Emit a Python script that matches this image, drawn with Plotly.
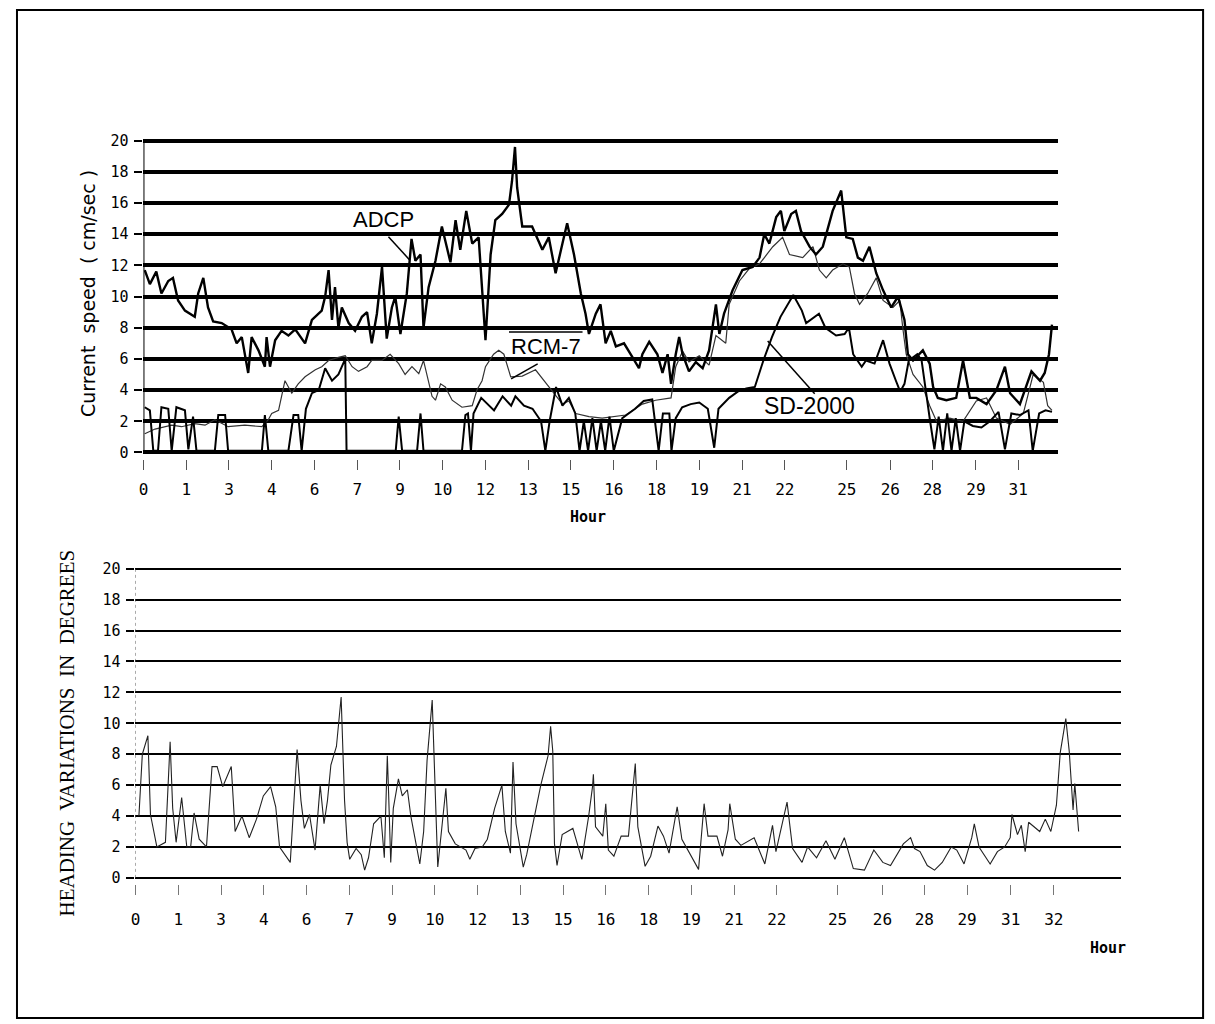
import plotly.graph_objects as go

W, H = 1215, 1024

# ---------------- data ----------------
# hour labels (irregular labels at evenly spaced plotter positions)
top_hour_labels = ["0", "1", "3", "4", "6", "7", "9", "10", "12", "13", "15", "16",
                   "18", "19", "21", "22", "25", "26", "28", "29", "31"]
top_hour_pos = [0, 1, 2, 3, 4, 5, 6, 7, 8, 9, 10, 11, 12, 13, 14, 15,
                16.45, 17.47, 18.45, 19.47, 20.46]
bot_hour_labels = ["0", "1", "3", "4", "6", "7", "9", "10", "12", "13", "15", "16",
                   "18", "19", "21", "22", "25", "26", "28", "29", "31", "32"]
bot_hour_pos = [0, 1, 2, 3, 4, 5, 6, 7, 8, 9, 10, 11, 12, 13, 14, 15,
                16.42, 17.47, 18.45, 19.45, 20.47, 21.48]
y_ticks = [0, 2, 4, 6, 8, 10, 12, 14, 16, 18, 20]

adcp_x = [0.03, 0.15, 0.30, 0.42, 0.58, 0.69, 0.81, 0.97, 1.20, 1.28, 1.40, 1.51, 1.63, 1.83, 2.06,
          2.18, 2.30, 2.45, 2.53, 2.69, 2.84, 2.88, 2.96, 3.08, 3.23, 3.39, 3.55, 3.78, 3.94, 4.17,
          4.25, 4.33, 4.41, 4.48, 4.56, 4.64, 4.80, 4.95, 5.11, 5.23, 5.34, 5.46, 5.58, 5.69, 5.81,
          5.89, 6.01, 6.16, 6.27, 6.36, 6.48, 6.55, 6.67, 6.83, 6.98, 7.18, 7.30, 7.41, 7.55, 7.69,
          7.84, 8.00, 8.12, 8.23, 8.39, 8.55, 8.62, 8.69, 8.74, 8.86, 9.09, 9.33, 9.48, 9.64, 9.80,
          9.91, 10.07, 10.23, 10.34, 10.42, 10.58, 10.69, 10.81, 10.93, 11.05, 11.24, 11.44, 11.59,
          11.67, 11.83, 12.02, 12.14, 12.26, 12.34, 12.45, 12.53, 12.61, 12.76, 12.92, 13.08, 13.23,
          13.39, 13.47, 13.58, 13.78, 14.01, 14.25, 14.41, 14.52, 14.64, 14.80, 14.91, 14.99, 15.15,
          15.26, 15.38, 15.58, 15.73, 15.89, 16.01, 16.12, 16.32, 16.44, 16.59, 16.71, 16.83, 16.98,
          17.14, 17.30, 17.49, 17.65, 17.80, 17.88, 18.00, 18.23, 18.39, 18.47, 18.58, 18.78, 19.01,
          19.17, 19.33, 19.48, 19.72, 19.95, 20.15, 20.27, 20.50, 20.77, 20.97, 21.08, 21.18, 21.25]
adcp_speed = [11.7, 10.8, 11.6, 10.2, 11.0, 11.2, 9.75, 9.1, 8.7, 10.2, 11.2, 9.3, 8.4, 8.3, 7.9,
              7.0, 7.4, 5.1, 7.4, 6.55, 5.5, 7.4, 5.5, 7.2, 7.8, 7.5, 7.9, 7.0, 8.5, 9.1,
              10.0, 11.7, 8.5, 10.6, 8.0, 9.3, 8.3, 7.8, 8.7, 9.0, 7.0, 8.9, 11.9, 7.3, 9.3,
              10.0, 7.6, 10.2, 13.7, 12.3, 12.7, 8.0, 10.6, 12.3, 14.5, 12.2, 14.9, 13.0, 15.5, 13.4,
              13.8, 7.2, 12.7, 14.9, 15.3, 15.9, 17.4, 19.6, 17.0, 14.5, 14.5, 13.0, 13.8, 11.5, 13.4,
              14.7, 12.7, 10.2, 8.9, 7.6, 8.9, 9.5, 7.0, 7.8, 6.8, 7.0, 6.1, 5.4,
              6.3, 7.1, 6.3, 5.1, 6.3, 4.4, 6.3, 7.4, 6.3, 5.2, 5.8, 5.4, 6.55,
              9.5, 7.6, 8.9, 10.4, 11.7, 11.9, 12.5, 14.0, 13.4, 15.1, 15.5, 14.2, 15.3,
              15.5, 14.2, 13.2, 12.7, 13.2, 14.5, 15.5, 16.8, 13.8, 13.7, 12.5, 12.3, 13.2,
              11.5, 10.4, 9.3, 10.0, 8.5, 6.3, 5.9, 6.55, 5.7, 4.2, 3.5, 3.35, 3.5,
              5.9, 3.5, 3.5, 3.1, 4.0, 5.5, 3.8, 3.1, 5.2, 4.6, 5.1, 6.3, 8.2]

rcm7_x = [0.03, 0.27, 0.66, 0.89, 1.20, 1.44, 1.67, 1.98, 2.37, 2.77, 2.92, 3.00, 3.16, 3.31, 3.47,
          3.62, 3.78, 4.02, 4.17, 4.33, 4.56, 4.72, 4.88, 5.03, 5.23, 5.34, 5.58, 5.77, 5.97, 6.12,
          6.28, 6.44, 6.55, 6.75, 6.83, 6.95, 7.06, 7.22, 7.45, 7.69, 7.80, 7.92, 8.00, 8.19, 8.31,
          8.43, 8.59, 8.86, 9.17, 9.48, 9.80, 9.95, 10.11, 10.42, 10.73, 11.28, 11.67, 11.98, 12.34,
          12.45, 12.61, 12.76, 13.00, 13.23, 13.39, 13.62, 13.70, 13.94, 14.17, 14.41, 14.72, 14.95,
          15.11, 15.42, 15.66, 15.81, 15.97, 16.12, 16.36, 16.51, 16.63, 16.75, 16.94, 17.14, 17.30,
          17.53, 17.69, 17.76, 17.84, 18.00, 18.23, 18.39, 18.55, 18.86, 19.17, 19.48, 19.72, 19.95,
          20.27, 20.58, 20.81, 21.05, 21.15, 21.25]
rcm7_speed = [1.2, 1.5, 1.75, 1.65, 1.85, 1.75, 2.1, 1.65, 1.75, 1.65, 2.1, 2.5, 2.7, 4.6, 3.8,
              4.4, 4.85, 5.3, 5.5, 5.9, 6.1, 6.2, 5.5, 5.2, 5.5, 5.9, 5.9, 6.3, 5.7, 5.0,
              5.5, 5.05, 5.9, 3.6, 3.35, 4.4, 4.2, 3.35, 2.9, 3.0, 4.0, 4.6, 5.5, 6.3, 6.55,
              6.3, 4.85, 4.9, 5.3, 4.2, 3.1, 3.3, 2.5, 2.3, 2.2, 2.4, 3.1, 3.35, 3.5,
              5.5, 6.5, 5.8, 6.2, 5.6, 7.5, 7.0, 9.5, 11.0, 11.8, 12.1, 13.2, 13.8,
              12.7, 12.5, 13.2, 11.7, 11.2, 11.7, 12.1, 11.9, 10.2, 9.5, 10.2, 11.2, 9.75,
              9.3, 9.75, 8.0, 6.3, 5.0, 4.2, 3.0, 2.0, 2.2, 2.0, 3.3, 3.5, 2.2,
              1.8, 2.5, 5.0, 4.5, 3.0, 2.7]

sd2000_x = [0.03, 0.15, 0.23, 0.34, 0.42, 0.58, 0.66, 0.77, 0.97, 1.05, 1.16, 1.24, 1.67, 1.75, 1.91,
            1.98, 2.77, 2.84, 2.92, 3.39, 3.51, 3.62, 3.70, 3.80, 3.94, 4.10, 4.25, 4.41, 4.56, 4.72,
            4.75, 5.90, 5.97, 6.05, 6.40, 6.48, 6.55, 7.45, 7.53, 7.59, 7.66, 7.72, 7.90, 8.20, 8.40,
            8.60, 8.70, 8.90, 9.10, 9.30, 9.40, 9.50, 9.65, 9.80, 9.95, 10.10, 10.20, 10.30, 10.40,
            10.50, 10.60, 10.70, 10.80, 10.90, 11.00, 11.20, 11.30, 11.50, 11.70, 11.90, 12.05, 12.15,
            12.30, 12.35, 12.45, 12.60, 12.80, 13.00, 13.20, 13.35, 13.45, 13.70, 13.90, 14.10, 14.30,
            14.50, 14.70, 14.90, 15.20, 15.40, 15.50, 15.80, 15.95, 16.20, 16.40, 16.50, 16.60, 16.80,
            16.90, 17.10, 17.30, 17.45, 17.60, 17.70, 17.80, 17.90, 18.10, 18.20, 18.40, 18.50, 18.60,
            18.70, 18.80, 18.90, 19.00, 19.10, 19.20, 19.40, 19.60, 19.80, 20.00, 20.15, 20.30, 20.50,
            20.70, 20.80, 20.95, 21.10, 21.25]
sd2000_speed = [2.9, 2.7, 0.1, 0.1, 2.9, 2.8, 0.1, 2.9, 2.7, 0.2, 2.3, 0.1, 0.1, 2.4, 2.4,
                0.1, 0.1, 2.4, 0.1, 0.1, 2.4, 2.4, 0.1, 2.8, 3.8, 4.0, 5.4, 4.6, 5.0, 6.0,
                0.1, 0.1, 2.3, 0.1, 0.1, 2.5, 0.1, 0.1, 2.4, 2.5, 0.1, 2.5, 3.5, 2.7, 3.6,
                3.0, 3.6, 3.0, 2.8, 2.0, 0.1, 2.0, 4.2, 3.0, 3.5, 2.5, 0.1, 2.0, 0.1,
                2.2, 0.1, 2.0, 0.1, 2.3, 0.1, 2.2, 2.4, 2.8, 3.3, 3.4, 0.1, 2.5,
                2.5, 0.1, 2.2, 2.9, 3.1, 3.2, 2.8, 0.3, 2.8, 3.5, 3.9, 4.1, 4.2,
                5.9, 7.4, 8.7, 10.1, 9.1, 8.3, 8.9, 8.0, 7.5, 7.6, 8.0, 6.3, 5.5,
                5.9, 5.7, 7.2, 5.7, 4.6, 3.9, 4.4, 5.9, 6.3, 5.9, 2.0, 0.2, 2.3,
                0.1, 2.5, 0.1, 2.2, 0.1, 2.0, 1.7, 1.6, 2.0, 2.6, 0.2, 2.5, 2.4,
                2.7, 0.1, 2.5, 2.7, 2.6]

heading_x = [0.08, 0.16, 0.29, 0.35, 0.50, 0.70, 0.81, 0.87, 0.95, 1.08, 1.20, 1.29, 1.37, 1.49, 1.66,
             1.79, 1.91, 2.04, 2.24, 2.33, 2.49, 2.66, 2.83, 2.99, 3.16, 3.28, 3.37, 3.62, 3.78, 3.87,
             3.95, 4.07, 4.20, 4.32, 4.41, 4.49, 4.57, 4.70, 4.81, 4.89, 4.95, 5.01, 5.16, 5.28, 5.36,
             5.45, 5.57, 5.74, 5.82, 5.89, 5.92, 5.97, 6.03, 6.15, 6.24, 6.36, 6.44, 6.65, 6.74, 6.82,
             6.94, 6.99, 7.03, 7.07, 7.19, 7.26, 7.32, 7.48, 7.73, 7.82, 7.94, 8.11, 8.23, 8.40, 8.57,
             8.65, 8.77, 8.83, 8.90, 9.07, 9.15, 9.48, 9.65, 9.71, 9.76, 9.80, 9.86, 9.98, 10.23, 10.44,
             10.60, 10.69, 10.71, 10.76, 10.93, 11.00, 11.06, 11.19, 11.36, 11.53, 11.69, 11.75, 11.92,
             12.05, 12.22, 12.35, 12.48, 12.61, 12.67, 12.78, 13.00, 13.17, 13.30, 13.39, 13.60, 13.73,
             13.86, 13.90, 14.03, 14.16, 14.47, 14.72, 14.90, 14.98, 15.24, 15.37, 15.59, 15.72, 15.93,
             16.15, 16.36, 16.58, 16.79, 17.05, 17.27, 17.48, 17.66, 17.96, 18.13, 18.22, 18.35, 18.52,
             18.69, 18.87, 19.08, 19.21, 19.38, 19.56, 19.62, 19.73, 19.99, 20.16, 20.33, 20.46, 20.50,
             20.63, 20.72, 20.81, 20.89, 20.98, 21.15, 21.28, 21.41, 21.54, 21.63, 21.76, 21.84, 21.93,
             21.97, 22.06]
heading_deg = [4.0, 8.0, 9.2, 4.1, 2.0, 2.3, 8.8, 4.5, 2.3, 5.2, 2.0, 2.0, 4.2, 2.5, 2.0,
               7.2, 7.2, 5.9, 7.2, 3.0, 4.0, 2.6, 3.8, 5.3, 5.9, 4.6, 2.0, 1.0, 8.3, 5.0,
               3.2, 4.1, 1.8, 6.0, 3.5, 5.0, 7.3, 8.5, 11.7, 5.0, 2.3, 1.2, 1.9, 1.5, 0.5,
               1.3, 3.5, 4.0, 1.3, 7.9, 5.5, 1.0, 4.5, 6.4, 5.3, 5.7, 4.0, 0.9, 3.0, 7.6,
               11.5, 8.0, 4.0, 0.7, 4.0, 5.8, 3.0, 2.2, 1.8, 1.2, 1.9, 2.0, 2.5, 4.5, 6.0,
               3.0, 1.6, 7.5, 3.5, 0.7, 1.5, 6.0, 7.9, 9.8, 8.2, 2.2, 0.8, 2.8, 3.2, 1.2,
               4.0, 5.9, 6.7, 3.3, 2.7, 4.8, 1.8, 1.4, 2.7, 2.7, 7.4, 3.3, 0.75,
               1.4, 3.35, 2.7, 1.6, 3.8, 4.6, 2.5, 1.4, 0.55, 4.8, 2.7, 2.7, 1.4,
               3.1, 4.8, 2.5, 2.1, 2.6, 0.9, 3.4, 1.7, 4.9, 1.9, 1.0, 2.0, 1.3,
               2.4, 1.2, 2.6, 0.6, 0.5, 1.8, 1.0, 0.8, 2.2, 2.6, 1.9, 1.7, 0.8,
               0.5, 1.0, 2.0, 1.8, 0.9, 2.6, 3.5, 2.0, 0.9, 1.7, 2.0, 2.6, 4.1,
               2.8, 3.4, 1.7, 3.6, 3.4, 3.0, 3.8, 3.0, 4.7, 8.1, 10.3, 8.2, 4.4,
               6.1, 3.0]


# ---------------- helpers (page pixel -> paper; page body has an 8px margin) ----------------
OFF = 8


def px(x):
    return (x - OFF) / W


def py(y):
    return 1 - (y - OFF) / H


MONO = "DejaVu Sans Mono"
SANS = "Liberation Sans"

fig = go.Figure()

fig.add_trace(go.Scatter(x=rcm7_x, y=rcm7_speed, mode="lines",
                         line=dict(color="#333", width=1.2), xaxis="x", yaxis="y", name="RCM-7"))
fig.add_trace(go.Scatter(x=sd2000_x, y=sd2000_speed, mode="lines",
                         line=dict(color="black", width=2), xaxis="x", yaxis="y", name="SD-2000"))
fig.add_trace(go.Scatter(x=adcp_x, y=adcp_speed, mode="lines",
                         line=dict(color="black", width=2.4), xaxis="x", yaxis="y", name="ADCP"))
fig.add_trace(go.Scatter(x=heading_x, y=heading_deg, mode="lines",
                         line=dict(color="#222", width=1.1), xaxis="x2", yaxis="y2", name="Heading"))

x0_top, unit = 139, 42.93
x0_bot = 131

fig.update_layout(
    width=W, height=H,
    margin=dict(l=0, r=0, t=0, b=0),
    paper_bgcolor="white", plot_bgcolor="rgba(0,0,0,0)",
    showlegend=False,
    xaxis=dict(domain=[px(x0_top), px(x0_top + unit * 21.38)], range=[0, 21.38],
               anchor="y", tickmode="array", tickvals=top_hour_pos, ticktext=top_hour_labels,
               ticks="outside", ticklen=10, tickwidth=1, tickcolor="#555",
               tickfont=dict(family=MONO, size=16, color="black"), ticklabelstandoff=6,
               showgrid=False, zeroline=False, showline=False),
    yaxis=dict(domain=[py(458.3), py(132.2)], range=[-0.4, 20.4], anchor="x",
               tickmode="array", tickvals=y_ticks,
               ticks="outside", ticklen=8, tickwidth=2, tickcolor="black",
               tickfont=dict(family=MONO, size=15, color="black"), ticklabelstandoff=3,
               showgrid=True, gridcolor="black", gridwidth=3.5,
               zeroline=False, showline=False),
    xaxis2=dict(domain=[px(x0_bot), px(x0_bot + unit * 23.05)], range=[0, 23.05],
                anchor="y2", tickmode="array", tickvals=bot_hour_pos, ticktext=bot_hour_labels,
                ticks="outside", ticklen=10, tickwidth=1, tickcolor="#777",
                tickfont=dict(family=MONO, size=16, color="black"), ticklabelstandoff=11,
                showgrid=False, zeroline=False, showline=False),
    yaxis2=dict(domain=[py(886.2), py(562.8)], range=[-0.4, 20.4], anchor="x2",
                tickmode="array", tickvals=y_ticks,
                ticks="outside", ticklen=8, tickwidth=2, tickcolor="black",
                tickfont=dict(family=MONO, size=15, color="black"), ticklabelstandoff=3,
                showgrid=True, gridcolor="black", gridwidth=2,
                zeroline=False, showline=False),
)

shapes = [
    # y axis lines
    dict(type="line", xref="x", yref="y", x0=0, x1=0, y0=0, y1=20,
         line=dict(color="black", width=2)),
    dict(type="line", xref="x2", yref="y2", x0=0, x1=0, y0=0, y1=20,
         line=dict(color="#555", width=1, dash="dot")),
    # label pointers
    dict(type="line", xref="x", yref="y", x0=5.73, y0=13.84, x1=6.22, y1=12.37,
         line=dict(color="black", width=1.5)),
    dict(type="line", xref="x", yref="y", x0=8.55, y0=7.72, x1=10.27, y1=7.72,
         line=dict(color="black", width=1.5)),
    dict(type="line", xref="x", yref="y", x0=9.22, y0=5.68, x1=8.6, y1=4.72,
         line=dict(color="black", width=1.5)),
    dict(type="line", xref="x", yref="y", x0=15.7, y0=3.76, x1=14.6, y1=7.15,
         line=dict(color="black", width=1.5)),
    # page frame
    dict(type="rect", xref="paper", yref="paper", x0=px(12), x1=px(1203), y0=py(1021), y1=py(7),
         line=dict(color="black", width=2), fillcolor="rgba(0,0,0,0)", layer="below"),
]
fig.update_layout(shapes=shapes)

ann = [
    dict(text="ADCP", x=px(380), y=py(218), font=dict(family=SANS, size=22, color="black")),
    dict(text="RCM-7", x=px(543), y=py(345), font=dict(family=SANS, size=22, color="black")),
    dict(text="SD-2000", x=px(808), y=py(405), font=dict(family=SANS, size=23, color="black")),
    dict(text="<b>Hour</b>", x=px(585), y=py(517), font=dict(family=MONO, size=15, color="black")),
    dict(text="<b>Hour</b>", x=px(1108), y=py(951), font=dict(family=MONO, size=15, color="black")),
    dict(text="Current  speed  ( cm/sec )", x=px(84), y=py(292), textangle=-90,
         font=dict(family="DejaVu Sans", size=19, color="black")),
    dict(text="HEADING  VARIATIONS  IN  DEGREES", x=px(62), y=py(734), textangle=-90,
         font=dict(family="Liberation Serif", size=21, color="black")),
]
for a in ann:
    a.update(xref="paper", yref="paper", showarrow=False, xanchor="center", yanchor="middle")
fig.update_layout(annotations=ann)

fig.write_html("out.html")
